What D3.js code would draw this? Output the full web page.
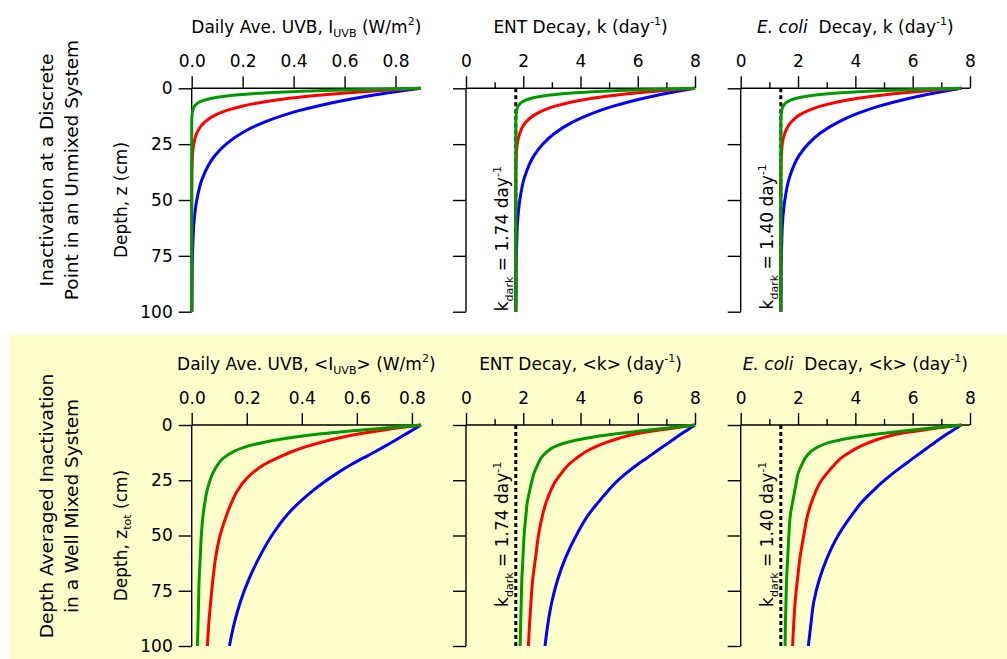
<!DOCTYPE html>
<html>
<head>
<meta charset="utf-8">
<script src="https://cdn.jsdelivr.net/npm/d3@7"></script>
<style>
  body { margin: 0; background: #fff; }
  text { font-family: "DejaVu Sans", Verdana, sans-serif; fill: #000; white-space: pre; }
</style>
</head>
<body>
<script>
// depths (cm) at which the curves were read
const depthTop = [0, 1, 2, 3, 4, 5, 6, 8, 10, 12, 15, 20, 25, 30, 40, 50, 60, 70, 80, 100]
const depthBottom = [0, 2, 4, 6, 8, 10, 12, 15, 18, 22, 26, 30, 35, 40, 50, 60, 70, 80, 90, 100]

// top row: discrete point, unmixed
const uvbTopBlue = [0.90, 0.834, 0.773, 0.716, 0.664, 0.616, 0.571, 0.491, 0.421, 0.362, 0.288, 0.197, 0.135, 0.092, 0.043, 0.020, 0.009, 0.0045, 0.002, 0.0005]
const uvbTopRed = [0.90, 0.744, 0.616, 0.509, 0.421, 0.348, 0.288, 0.197, 0.135, 0.092, 0.052, 0.020, 0.008, 0.003, 0.0005, 0, 0, 0, 0, 0]
const uvbTopGreen = [0.90, 0.519, 0.300, 0.173, 0.100, 0.058, 0.033, 0.011, 0.004, 0.0013, 0.0003, 0, 0, 0, 0, 0, 0, 0, 0, 0]
const entTopBlue = [8.00, 7.54, 7.12, 6.72, 6.36, 6.02, 5.71, 5.15, 4.67, 4.26, 3.74, 3.11, 2.68, 2.38, 2.04, 1.88, 1.80, 1.77, 1.75, 1.74]
const entTopRed = [8.00, 6.92, 6.02, 5.28, 4.67, 4.16, 3.74, 3.11, 2.68, 2.38, 2.10, 1.88, 1.79, 1.76, 1.74, 1.74, 1.74, 1.74, 1.74, 1.74]
const entTopGreen = [8.00, 5.35, 3.82, 2.94, 2.43, 2.14, 1.97, 1.82, 1.77, 1.75, 1.74, 1.74, 1.74, 1.74, 1.74, 1.74, 1.74, 1.74, 1.74, 1.74]
const ecoliTopBlue = [7.70, 7.24, 6.81, 6.41, 6.05, 5.71, 5.39, 4.83, 4.35, 3.93, 3.42, 2.78, 2.35, 2.04, 1.70, 1.54, 1.46, 1.43, 1.41, 1.40]
const ecoliTopRed = [7.70, 6.61, 5.71, 4.97, 4.35, 3.84, 3.42, 2.78, 2.35, 2.04, 1.77, 1.54, 1.45, 1.42, 1.40, 1.40, 1.40, 1.40, 1.40, 1.40]
const ecoliTopGreen = [7.70, 5.04, 3.50, 2.61, 2.10, 1.80, 1.63, 1.48, 1.43, 1.41, 1.40, 1.40, 1.40, 1.40, 1.40, 1.40, 1.40, 1.40, 1.40, 1.40]

// bottom row: depth averaged, well mixed
const uvbBotBlue = [0.833, 0.806, 0.779, 0.752, 0.724, 0.696, 0.668, 0.622, 0.578, 0.526, 0.479, 0.437, 0.391, 0.351, 0.291, 0.245, 0.207, 0.177, 0.154, 0.137]
const uvbBotRed = [0.833, 0.71, 0.61, 0.53, 0.465, 0.41, 0.365, 0.31, 0.262, 0.218, 0.187, 0.165, 0.145, 0.129, 0.103, 0.087, 0.077, 0.069, 0.062, 0.057]
const uvbBotGreen = [0.833, 0.64, 0.47, 0.345, 0.255, 0.192, 0.152, 0.115, 0.094, 0.076, 0.064, 0.055, 0.048, 0.042, 0.035, 0.031, 0.027, 0.025, 0.023, 0.021]
const entBotBlue = [8.00, 7.76, 7.53, 7.30, 7.08, 6.86, 6.64, 6.31, 5.98, 5.58, 5.23, 4.95, 4.62, 4.31, 3.85, 3.48, 3.20, 3.00, 2.86, 2.76]
const entBotRed = [8.00, 6.90, 5.95, 5.35, 4.88, 4.50, 4.20, 3.86, 3.58, 3.32, 3.10, 2.95, 2.80, 2.69, 2.53, 2.43, 2.33, 2.27, 2.22, 2.18]
const entBotGreen = [8.00, 6.55, 5.25, 4.20, 3.48, 3.06, 2.84, 2.62, 2.50, 2.37, 2.29, 2.22, 2.14, 2.10, 2.03, 1.99, 1.95, 1.93, 1.91, 1.89]
const ecoliBotBlue = [7.70, 7.45, 7.21, 6.98, 6.76, 6.55, 6.34, 6.02, 5.71, 5.30, 4.93, 4.60, 4.22, 3.92, 3.40, 3.02, 2.74, 2.55, 2.45, 2.36]
const ecoliBotRed = [7.70, 6.50, 5.50, 4.90, 4.47, 4.12, 3.85, 3.50, 3.27, 3.00, 2.77, 2.62, 2.47, 2.35, 2.20, 2.07, 1.98, 1.90, 1.85, 1.81]
const ecoliBotGreen = [7.70, 6.15, 4.85, 3.78, 3.07, 2.68, 2.45, 2.25, 2.13, 2.00, 1.94, 1.88, 1.81, 1.74, 1.68, 1.64, 1.60, 1.58, 1.56, 1.55]

// axes
const uvbTicks = [0, 0.2, 0.4, 0.6, 0.8]
const kTicks = [0, 2, 4, 6, 8]
const kMinorTicks = [1, 3, 5, 7]
const depthTicks = [0, 25, 50, 75, 100]
const kDarkEnt = 1.74
const kDarkEcoli = 1.40

const colors = { blue: '#0000ff', red: '#ff0000', green: '#009900' }
const fs = 17

let svg = d3.select('body').append('svg')
    .attr('width', 1007)
    .attr('height', 659)

// yellow band behind the lower row
svg.append('rect')
    .attr('x', 10).attr('y', 335)
    .attr('width', 997).attr('height', 324)
    .attr('fill', '#ffffcc')

// text made of pieces with sub / superscripts
function rich(textSel, parts, size) {
    let shift = 0
    parts.forEach(p => {
        let target = p.sub ? size * 0.25 : (p.sup ? -size * 0.45 : 0)
        textSel.append('tspan')
            .attr('dy', target - shift)
            .attr('font-size', (p.sub || p.sup) ? size * 0.65 : size)
            .attr('font-style', p.it ? 'italic' : null)
            .text(p.t)
        shift = target
    })
}

const rows = [{ top: 88.3, bottom: 311.7 }, { top: 425, bottom: 646 }]
const cols = [{ left: 191.7, right: 421 }, { left: 466, right: 695 }, { left: 740.7, right: 970 }]

const panels = [
    { row: 0, col: 0, max: 0.9, ticks: uvbTicks, minor: [], fmt: '.1f', depth: depthTop,
      series: { blue: uvbTopBlue, red: uvbTopRed, green: uvbTopGreen },
      title: [{ t: 'Daily Ave. UVB, I' }, { t: 'UVB', sub: 1 }, { t: ' (W/m' }, { t: '2', sup: 1 }, { t: ')' }] },
    { row: 0, col: 1, max: 8, ticks: kTicks, minor: kMinorTicks, fmt: 'd', depth: depthTop,
      series: { blue: entTopBlue, red: entTopRed, green: entTopGreen }, kDark: kDarkEnt, labelDepth: 99.8,
      title: [{ t: 'ENT Decay, k (day' }, { t: '-1', sup: 1 }, { t: ')' }] },
    { row: 0, col: 2, max: 8, ticks: kTicks, minor: kMinorTicks, fmt: 'd', depth: depthTop,
      series: { blue: ecoliTopBlue, red: ecoliTopRed, green: ecoliTopGreen }, kDark: kDarkEcoli, labelDepth: 99,
      title: [{ t: 'E. coli', it: 1 }, { t: '  Decay, k (day' }, { t: '-1', sup: 1 }, { t: ')' }] },
    { row: 1, col: 0, max: 0.833, ticks: uvbTicks, minor: [], fmt: '.1f', depth: depthBottom,
      series: { blue: uvbBotBlue, red: uvbBotRed, green: uvbBotGreen },
      title: [{ t: 'Daily Ave. UVB, <I' }, { t: 'UVB', sub: 1 }, { t: '> (W/m' }, { t: '2', sup: 1 }, { t: ')' }] },
    { row: 1, col: 1, max: 8, ticks: kTicks, minor: kMinorTicks, fmt: 'd', depth: depthBottom,
      series: { blue: entBotBlue, red: entBotRed, green: entBotGreen }, kDark: kDarkEnt, labelDepth: 82.3,
      title: [{ t: 'ENT Decay, <k> (day' }, { t: '-1', sup: 1 }, { t: ')' }] },
    { row: 1, col: 2, max: 8, ticks: kTicks, minor: kMinorTicks, fmt: 'd', depth: depthBottom,
      series: { blue: ecoliBotBlue, red: ecoliBotRed, green: ecoliBotGreen }, kDark: kDarkEcoli, labelDepth: 82.3,
      title: [{ t: 'E. coli', it: 1 }, { t: '  Decay, <k> (day' }, { t: '-1', sup: 1 }, { t: ')' }] }
]

panels.forEach(p => {
    let r = rows[p.row], c = cols[p.col]
    let x = d3.scaleLinear().domain([0, p.max]).range([c.left, c.right])
    let y = d3.scaleLinear().domain([0, 100]).range([r.top, r.bottom])
    let g = svg.append('g')

    // top axis, ticks pointing up
    let xAxis = g.append('g').attr('transform', 'translate(0,' + r.top + ')')
        .call(d3.axisTop(x).tickValues(p.ticks).tickSize(12).tickFormat(d3.format(p.fmt)).tickPadding(9))
    let xMinor = g.append('g').attr('transform', 'translate(0,' + r.top + ')')
        .call(d3.axisTop(x).tickValues(p.minor).tickSize(6).tickFormat(''))

    // left axis
    let yAxis = g.append('g').attr('transform', 'translate(' + c.left + ',0)')
        .call(d3.axisLeft(y).tickValues(depthTicks).tickSize(13).tickPadding(6)
            .tickFormat(p.col === 0 ? d3.format('d') : ''))

    ;[xAxis, xMinor, yAxis].forEach(a => {
        a.select('.domain').remove()
        a.selectAll('.tick line').attr('stroke-width', 1.4)
        a.selectAll('.tick text').attr('font-size', fs).attr('font-family', '"DejaVu Sans", Verdana, sans-serif').attr('fill', '#000')
    })
    // plain axis lines without outer ticks
    g.append('line').attr('x1', x(0)).attr('x2', x(p.max)).attr('y1', y(0)).attr('y2', y(0))
        .attr('stroke', '#000').attr('stroke-width', 1.4)
    g.append('line').attr('x1', x(0)).attr('x2', x(0)).attr('y1', y(0)).attr('y2', y(100))
        .attr('stroke', '#000').attr('stroke-width', 1.4)

    // title
    let title = g.append('text')
        .attr('x', (c.left + c.right) / 2)
        .attr('y', r.top - 55.5)
        .attr('text-anchor', 'middle')
    rich(title, p.title, fs)

    // dark decay rate line and label
    if (p.kDark !== undefined) {
        g.append('line')
            .attr('x1', x(p.kDark)).attr('x2', x(p.kDark))
            .attr('y1', y(0)).attr('y2', y(100))
            .attr('stroke', '#000').attr('stroke-width', 3)
            .attr('stroke-dasharray', '4,3')
        let lab = g.append('text')
            .attr('transform', 'translate(' + (x(p.kDark) - 7.5) + ',' + y(p.labelDepth) + ') rotate(-90)')
            .attr('text-anchor', 'start')
        rich(lab, [{ t: 'k' }, { t: 'dark', sub: 1 }, { t: ' = ' + p.kDark.toFixed(2) + ' day' }, { t: '-1', sup: 1 }], fs)
    }

    // curves: blue, red, then green on top
    let line = d3.line()
        .x(d => x(d[1]))
        .y(d => y(d[0]))
        .curve(d3.curveMonotoneY)
    ;['blue', 'red', 'green'].forEach(name => {
        let pts = p.depth.map((z, i) => [z, p.series[name][i]])
        g.append('path')
            .attr('d', line(pts))
            .attr('fill', 'none')
            .attr('stroke', colors[name])
            .attr('stroke-width', 3)
            .attr('stroke-linejoin', 'round')
    })
})

// depth axis titles
let yt1 = svg.append('text').attr('transform', 'translate(126.5,200) rotate(-90)').attr('text-anchor', 'middle')
rich(yt1, [{ t: 'Depth, z (cm)' }], fs)
let yt2 = svg.append('text').attr('transform', 'translate(126.5,535.5) rotate(-90)').attr('text-anchor', 'middle')
rich(yt2, [{ t: 'Depth, z' }, { t: 'tot', sub: 1 }, { t: ' (cm)' }], fs)

// row labels
const rowLabels = [
    { y: 170, lines: ['Inactivation at a Discrete', 'Point in an Unmixed System'] },
    { y: 506, lines: ['Depth Averaged Inactivation', 'in a Well Mixed System'] }
]
rowLabels.forEach(rl => {
    let t = svg.append('text')
        .attr('transform', 'translate(52.5,' + rl.y + ') rotate(-90)')
        .attr('text-anchor', 'middle')
        .attr('font-size', 18.5)
    rl.lines.forEach((s, i) => {
        t.append('tspan').attr('x', 0).attr('dy', i === 0 ? 0 : 25.8).text(s)
    })
})
</script>
</body>
</html>
